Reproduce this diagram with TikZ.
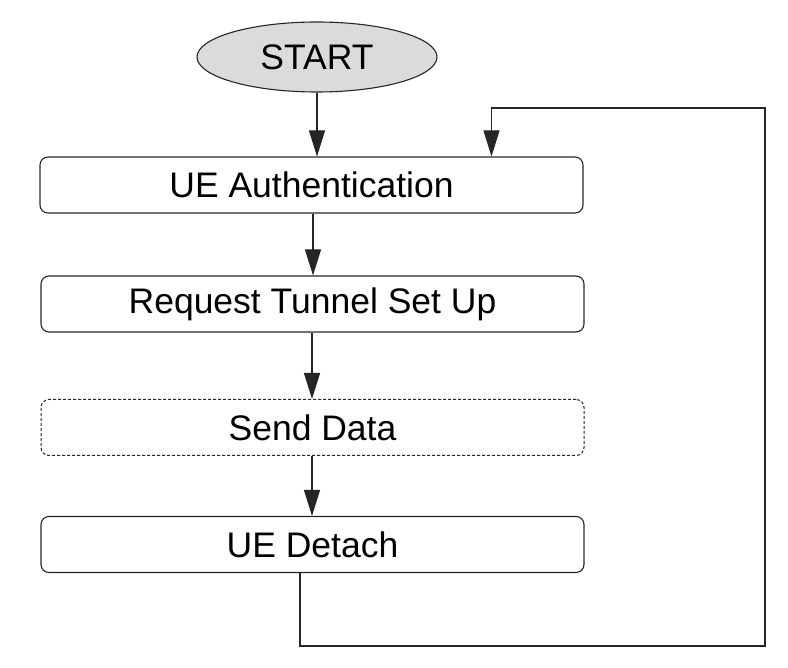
\documentclass[tikz,border=0pt]{standalone}
\usepackage{fontspec}
\setmainfont{Liberation Sans}
\usetikzlibrary{shapes.geometric,arrows.meta}
\begin{document}
\begin{tikzpicture}[x=1pt,y=-1pt,
  stepbox/.style={draw=black!85,line width=1.1pt,rounded corners=8pt,minimum width=543pt,minimum height=56pt,inner sep=0pt,font=\fontsize{35.5}{40}\selectfont},
  dotbox/.style={stepbox,draw=black!85,line width=1pt,dash pattern=on 3pt off 2pt},
  startnode/.style={ellipse,draw=black!85,line width=1.1pt,fill=black!14,minimum width=240pt,minimum height=70pt,inner sep=0pt,font=\fontsize{35.5}{40}\selectfont},
  flow/.style={draw=black!85,line width=1.1pt,-{Triangle[length=26pt,width=16pt]}}]
\useasboundingbox (0,0) rectangle (788,668);
\node[startnode] (start) at (317,57) {START};
\node[stepbox] (b1) at (311.5,185) {UE Authentication};
\node[stepbox] (b2) at (312.5,304) {Request Tunnel Set Up};
\node[dotbox] (b3) at (312.5,427.5) {Send Data};
\node[stepbox] (b4) at (312.5,544.5) {UE Detach};
\coordinate (r1) at (765,646);
\coordinate (r2) at (765,108);
\draw[flow] (start.south) -- (start.south |- b1.north);
\draw[flow] ([xshift=1.5pt]b1.south) -- ([xshift=0.5pt]b2.north);
\draw[flow] ([xshift=-0.5pt]b2.south) -- ([xshift=-0.5pt]b3.north);
\draw[flow] ([xshift=-0.5pt]b3.south) -- ([xshift=-0.5pt]b4.north);
\draw[flow] ([xshift=-12.5pt]b4.south) |- (r1) -- (r2) -| ([xshift=180pt]b1.north);
\end{tikzpicture}
\end{document}
